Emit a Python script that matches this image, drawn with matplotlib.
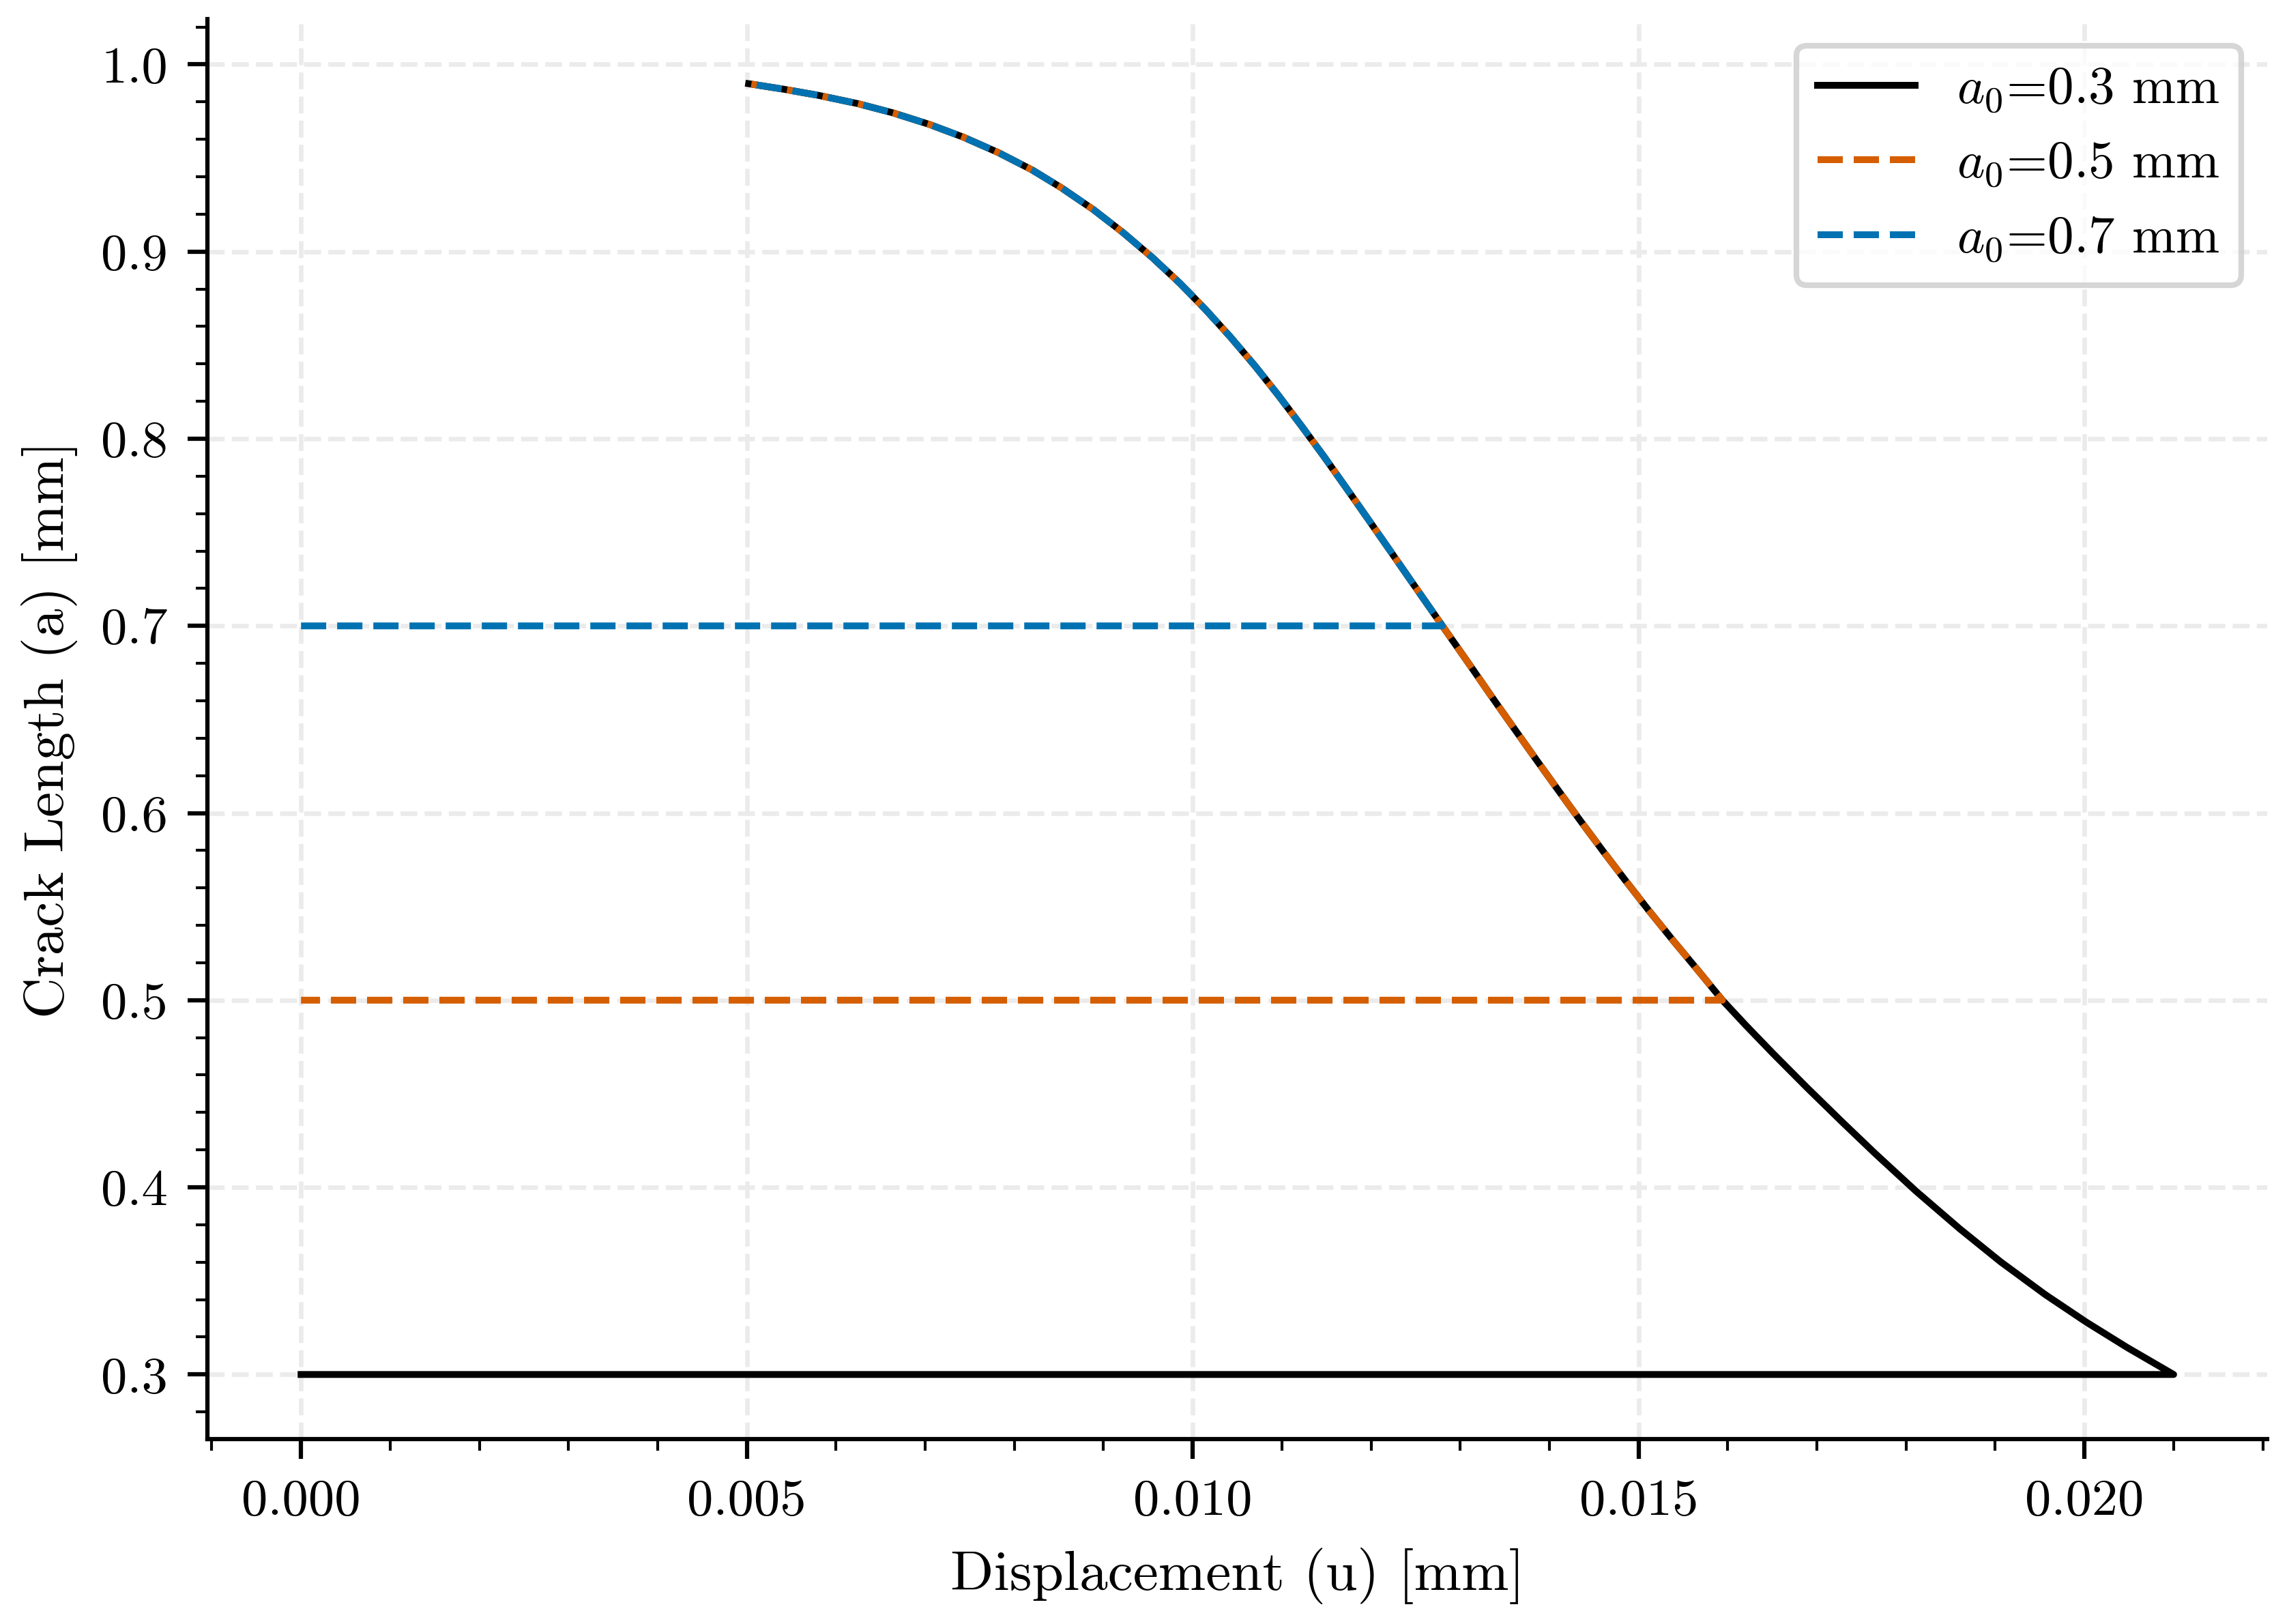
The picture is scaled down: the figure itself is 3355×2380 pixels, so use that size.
import matplotlib
matplotlib.use("Agg")
import matplotlib.pyplot as plt
from matplotlib.ticker import AutoMinorLocator
from matplotlib.lines import Line2D
import numpy as np

# ---- data ----
# shared crack-growth (snap-back) branch: displacement u [mm], crack length a [mm]
curve_u = [0.00502, 0.00542, 0.00580, 0.00624, 0.00664, 0.00705, 0.00743, 0.00782,
           0.00820, 0.00853, 0.00889, 0.00922, 0.00955, 0.00986, 0.01014, 0.01042,
           0.01070, 0.01096, 0.01122, 0.01147, 0.01172, 0.01196, 0.01220, 0.01244,
           0.01268, 0.01280, 0.01312, 0.01337, 0.01361, 0.01386, 0.01410, 0.01435,
           0.01460, 0.01485, 0.01511, 0.01539, 0.01567, 0.01594, 0.01620, 0.01651,
           0.01689, 0.01729, 0.01765, 0.01811, 0.01860, 0.01906, 0.01956, 0.02002,
           0.02048, 0.02100]
curve_a = [0.9897, 0.9867, 0.9835, 0.9791, 0.9741, 0.9679, 0.9611, 0.9529,
           0.9436, 0.9340, 0.9223, 0.9101, 0.8967, 0.8829, 0.8692, 0.8545,
           0.8388, 0.8232, 0.8068, 0.7906, 0.7738, 0.7575, 0.7411, 0.7246,
           0.7082, 0.7000, 0.6782, 0.6610, 0.6448, 0.6280, 0.6121, 0.5957,
           0.5797, 0.5641, 0.5482, 0.5317, 0.5157, 0.5000, 0.4867, 0.4714,
           0.4532, 0.4346, 0.4182, 0.3980, 0.3779, 0.3602, 0.3427, 0.3280,
           0.3144, 0.3000]

initial_lengths = [0.3, 0.5, 0.7]          # a0 [mm]
onset_u = [0.02100, 0.01594, 0.01280]      # displacement where growth starts
labels = [r"$a_0$=0.3 mm", r"$a_0$=0.5 mm", r"$a_0$=0.7 mm"]
colors = ["black", "#D55E00", "#0072B2"]
styles = ["-", "--", "--"]

xticks = [0.000, 0.005, 0.010, 0.015, 0.020]
yticks = [0.3, 0.4, 0.5, 0.6, 0.7, 0.8, 0.9, 1.0]

# ---- style ----
plt.rcParams["font.family"] = "serif"
plt.rcParams["font.serif"] = ["cmr10"]
plt.rcParams["mathtext.fontset"] = "cm"
plt.rcParams["axes.formatter.use_mathtext"] = True
plt.rcParams["axes.unicode_minus"] = False

LW = 1.2
DASH = (3.7, 1.6)

fig = plt.figure(figsize=(3355 / 600, 2380 / 600), dpi=600)
ax = fig.add_axes([0.0906, 0.1139, 0.9905 - 0.0906, 0.9882 - 0.1139])

cu = np.array(curve_u)
ca = np.array(curve_a)
paths = []
for a0, u0 in zip(initial_lengths, onset_u):
    mask = ca >= a0 - 1e-9
    u = np.concatenate([[0.0, u0], cu[mask][::-1]])
    a = np.concatenate([[a0, a0], ca[mask][::-1]])
    paths.append((u, a))

# fix the view (default 5% margins around the data) so dash phases can be computed
all_u = np.concatenate([p[0] for p in paths])
all_a = np.concatenate([p[1] for p in paths])
du = all_u.max() - all_u.min()
da = all_a.max() - all_a.min()
ax.set_xlim(all_u.min() - 0.05 * du, all_u.max() + 0.05 * du)
ax.set_ylim(all_a.min() - 0.05 * da, all_a.max() + 0.05 * da)


def arc_pts(u, a):
    pts = ax.transData.transform(np.column_stack([u, a]))
    d = np.hypot(np.diff(pts[:, 0]), np.diff(pts[:, 1]))
    return np.concatenate([[0.0], np.cumsum(d)]) * 72.0 / fig.dpi


# align the blue dashes with the orange ones on the shared branch (as in the reference)
u_o, a_o = paths[1]
u_b, a_b = paths[2]
L_o = arc_pts(u_o, a_o)
L_b = arc_pts(u_b, a_b)
i_o = int(np.argmin(np.abs(u_o - onset_u[2]) + np.abs(a_o - initial_lengths[2])))
dash_on = DASH[0] * LW
gap = DASH[1] * LW
period = dash_on + gap
D = (L_o[i_o] - L_b[1] + gap / 2.0) % period
if D < dash_on:
    off_o, off_b = 0.0, D
else:
    off_o, off_b = period - D, 0.0

linestyles = ["-", (off_o / LW, DASH), (off_b / LW, DASH)]
for (u, a), col, ls in zip(paths, colors, linestyles):
    ax.plot(u, a, linestyle=ls, color=col, lw=LW, zorder=3)

ax.set_xticks(xticks)
ax.set_yticks(yticks)
ax.set_xticklabels([f"{v:.3f}" for v in xticks])
ax.set_yticklabels([f"{v:.1f}" for v in yticks])
ax.xaxis.set_minor_locator(AutoMinorLocator(5))
ax.yaxis.set_minor_locator(AutoMinorLocator(5))

ax.grid(True, which="major", linestyle="--", linewidth=0.8, color="#ebebeb", zorder=0)
ax.set_axisbelow(True)

for s in ["top", "right"]:
    ax.spines[s].set_visible(False)
for s in ["left", "bottom"]:
    ax.spines[s].set_linewidth(0.75)

ax.tick_params(which="major", length=3.5, width=0.75, labelsize=9.2, pad=3.5)
ax.tick_params(which="minor", length=2.0, width=0.5)

ax.set_xlabel("Displacement (u) [mm]", fontsize=10)
ax.set_ylabel("Crack Length (a) [mm]", fontsize=10)

handles = [Line2D([], [], color=c, lw=LW, linestyle=s) for c, s in zip(colors, styles)]
ax.legend(handles, labels, loc="upper right", fontsize=9.25, handlelength=1.85)

fig.savefig("out.png", dpi=600)
